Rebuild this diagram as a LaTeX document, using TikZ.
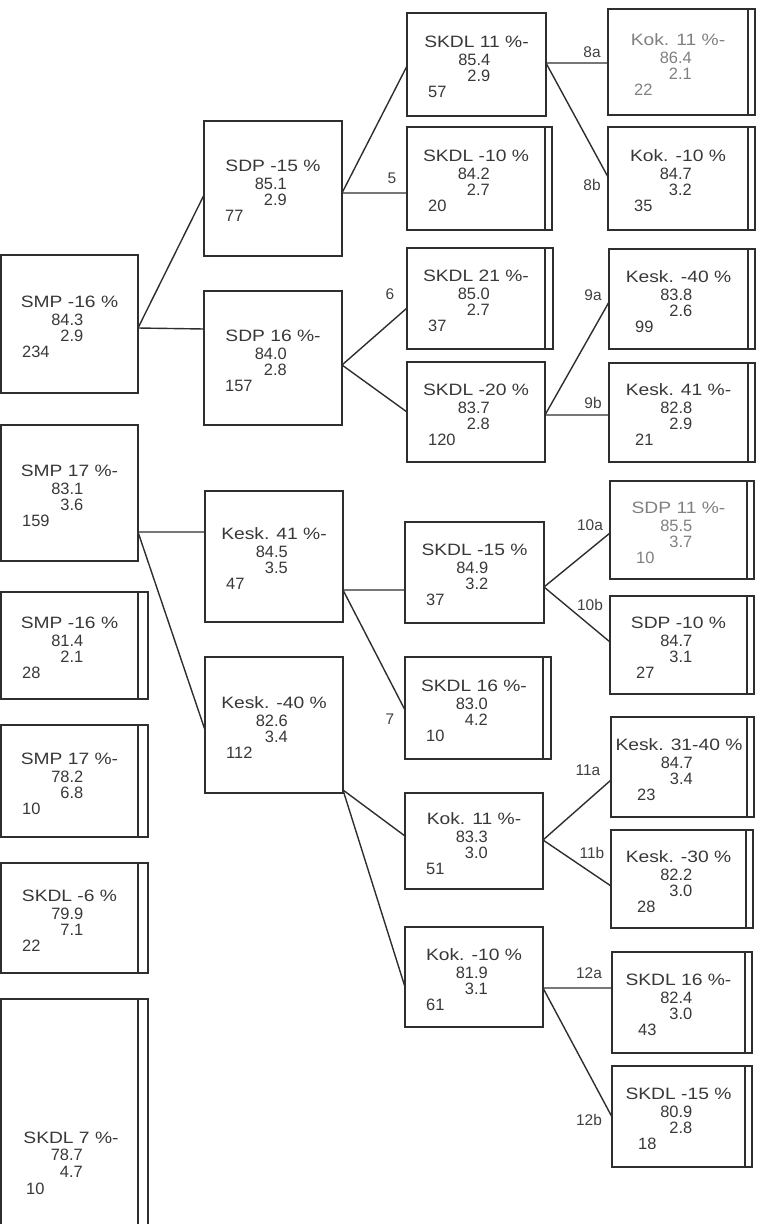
\documentclass[tikz,border=0pt]{standalone}
\usepackage{fontspec}
\setmainfont{Liberation Sans}
\usepackage{graphicx}
\tikzset{
  box/.style={draw=black!82, line width=1.9bp, inner sep=0pt, outer sep=0pt},
  txt/.style={inner sep=0pt, text=black!78, font=\fontsize{16.5}{17}\selectfont},
  faint/.style={txt, text=black!50},
  lab/.style={inner sep=0pt, text=black!75, font=\fontsize{15.5}{17}\selectfont},
  conn/.style={draw=black!82, line width=1.4bp}
}
\newcommand{\bx}[5]{\node[box,minimum width={(#4-#2)*1bp},minimum height={(#5-#3)*1bp}] (#1) at ({(#2+#4)/2},{(#3+#5)/2}) {};}
\newcommand{\dbl}[2]{\draw[box] (#1.north east) -- ++(#2,0) |- (#1.south east);}
\def\lfour{21bp}
\def\tst{txt}
\newcommand{\tx}[5]{%
  \node[\tst,anchor=base] (#1-a) at ([yshift=17bp]#1.center) {\scalebox{1.17}[1]{#2}};
  \node[\tst,anchor=base east] (#1-b) at ([xshift=14bp,yshift=-1bp]#1.center) {#3};
  \node[\tst,anchor=base east] (#1-c) at ([xshift=14bp,yshift=-17bp]#1.center) {#4};
  \node[\tst,anchor=base west] (#1-d) at ([xshift=\lfour,yshift=-33bp]#1.west) {#5};}
\begin{document}
\begin{tikzpicture}[x=1bp,y=-1bp]
\useasboundingbox (0,0) rectangle (758,1224);
% column 1
\bx{A1}{1}{255}{138}{393}
\bx{A2}{1}{425}{138}{561}
\bx{A3}{1}{592}{138}{699}\dbl{A3}{10}
\bx{A4}{1}{725}{138}{837}\dbl{A4}{10}
\bx{A5}{1}{863}{138}{973}\dbl{A5}{10}
\bx{A6}{1}{999}{138}{1240}\dbl{A6}{10}
% column 2
\bx{B1}{204}{121}{342}{256}
\bx{B2}{204}{291}{342}{425}
\bx{B3}{205}{491}{343}{622}
\bx{B4}{205}{657}{343}{793}
% column 3
\bx{C1}{407}{13}{546}{116}
\bx{C2}{407}{127}{545}{230}\dbl{C2}{7}
\bx{C3}{407}{248}{545}{349}\dbl{C3}{8}
\bx{C4}{407}{362}{545}{462}
\bx{C5}{405}{522}{544}{623}
\bx{C6}{405}{657}{543}{759}\dbl{C6}{8}
\bx{C7}{405}{793}{543}{889}
\bx{C8}{405}{927}{543}{1027}
% column 4
\bx{D1}{608}{9}{748}{115}\dbl{D1}{7}
\bx{D2}{608}{127}{748}{230}\dbl{D2}{7}
\bx{D3}{609}{249}{748}{349}\dbl{D3}{7}
\bx{D4}{609}{363}{748}{462}\dbl{D4}{7}
\bx{D5}{610}{481}{747}{579}\dbl{D5}{7}
\bx{D6}{610}{596}{747}{694}\dbl{D6}{7}
\bx{D7}{611}{717}{747}{817}\dbl{D7}{7}
\bx{D8}{611}{830}{746}{928}\dbl{D8}{7}
\bx{D9}{612}{952}{745}{1053}\dbl{D9}{7}
\bx{D10}{612}{1066}{745}{1167}\dbl{D10}{7}
% texts
\tx{A1}{SMP -16 \%}{84.3}{2.9}{234}
\tx{A2}{SMP 17 \%-}{83.1}{3.6}{159}
\tx{A3}{SMP -16 \%}{81.4}{2.1}{28}
\tx{A4}{SMP 17 \%-}{78.2}{6.8}{10}
\tx{A5}{SKDL -6 \%}{79.9}{7.1}{22}
\node[txt,anchor=base] (A6-a) at (71,1143) {\scalebox{1.17}[1]{SKDL 7 \%-}};
\node[txt,anchor=base east] (A6-b) at (83,1160) {78.7};
\node[txt,anchor=base east] (A6-c) at (83,1177) {4.7};
\node[txt,anchor=base west] (A6-d) at (26,1194) {10};
\tx{B1}{SDP -15 \%}{85.1}{2.9}{77}
\tx{B2}{SDP 16 \%-}{84.0}{2.8}{157}
\tx{B3}{Kesk. 41 \%-}{84.5}{3.5}{47}
\tx{B4}{Kesk. -40 \%}{82.6}{3.4}{112}
\tx{C1}{SKDL 11 \%-}{85.4}{2.9}{57}
\tx{C2}{SKDL -10 \%}{84.2}{2.7}{20}
\tx{C3}{SKDL 21 \%-}{85.0}{2.7}{37}
\tx{C4}{SKDL -20 \%}{83.7}{2.8}{120}
\tx{C5}{SKDL -15 \%}{84.9}{3.2}{37}
\tx{C6}{SKDL 16 \%-}{83.0}{4.2}{10}
\tx{C7}{Kok. 11 \%-}{83.3}{3.0}{51}
\tx{C8}{Kok. -10 \%}{81.9}{3.1}{61}
\def\lfour{26bp}
\def\tst{faint}
\tx{D1}{Kok. 11 \%-}{86.4}{2.1}{22}
\def\tst{txt}
\tx{D2}{Kok. -10 \%}{84.7}{3.2}{35}
\tx{D3}{Kesk. -40 \%}{83.8}{2.6}{99}
\tx{D4}{Kesk. 41 \%-}{82.8}{2.9}{21}
\def\tst{faint}
\tx{D5}{SDP 11 \%-}{85.5}{3.7}{10}
\def\tst{txt}
\tx{D6}{SDP -10 \%}{84.7}{3.1}{27}
\tx{D7}{Kesk. 31-40 \%}{84.7}{3.4}{23}
\tx{D8}{Kesk. -30 \%}{82.2}{3.0}{28}
\tx{D9}{SKDL 16 \%-}{82.4}{3.0}{43}
\tx{D10}{SKDL -15 \%}{80.9}{2.8}{18}
% connectors
\draw[conn] ([yshift=-4bp]A1.east) -- ([yshift=-6.5bp]B1.west);
\draw[conn] ([yshift=-4bp]A1.east) -- ([yshift=29bp]B2.west);
\draw[conn] ([yshift=-4.5bp]B1.east) -- ([yshift=-1.5bp]C1.west);
\draw[conn] ([yshift=-4.5bp]B1.east) -- ([yshift=-14.5bp]C2.west);
\draw[conn] ([yshift=-7bp]B2.east) -- ([yshift=-9.5bp]C3.west);
\draw[conn] ([yshift=-7bp]B2.east) -- (C4.west);
\draw[conn] ([yshift=1.5bp]C1.east) -- ([yshift=-1bp]D1.west);
\draw[conn] ([yshift=1.5bp]C1.east) -- ([yshift=1.5bp]D2.west);
\draw[conn] ([yshift=-3bp]C4.east) -- ([yshift=-3bp]D3.west);
\draw[conn] ([yshift=-3bp]C4.east) -- ([yshift=-2.5bp]D4.west);
\draw[conn] ([yshift=-39bp]A2.east) -- ([yshift=24.5bp]B3.west);
\draw[conn] ([yshift=-39bp]A2.east) -- ([yshift=-5bp]B4.west);
\draw[conn] ([yshift=-33.5bp]B3.east) -- ([yshift=-17.5bp]C5.west);
\draw[conn] ([yshift=-33.5bp]B3.east) -- ([yshift=-2bp]C6.west);
\draw[conn] ([yshift=-14.5bp]C5.east) -- ([yshift=-3bp]D5.west);
\draw[conn] ([yshift=-14.5bp]C5.east) -- ([yshift=3bp]D6.west);
\draw[conn] ([yshift=-65bp]B4.east) -- ([yshift=5bp]C7.west);
\draw[conn] ([yshift=-65bp]B4.east) -- ([yshift=-10bp]C8.west);
\draw[conn] ([yshift=1bp]C7.east) -- ([yshift=-13bp]D7.west);
\draw[conn] ([yshift=1bp]C7.east) -- ([yshift=-7bp]D8.west);
\draw[conn] ([yshift=-11bp]C8.east) -- ([yshift=14.5bp]D9.west);
\draw[conn] ([yshift=-11bp]C8.east) -- ([yshift=-0.5bp]D10.west);
% branch labels
\node[lab] (l5) at (392,178) {5};
\node[lab] (l6) at (390,294) {6};
\node[lab] (l7) at (390,719) {7};
\node[lab] (l8a) at (592,52) {8a};
\node[lab] (l8b) at (592,185) {8b};
\node[lab] (l9a) at (593,295) {9a};
\node[lab] (l9b) at (593,403) {9b};
\node[lab] (l10a) at (590,525) {10a};
\node[lab] (l10b) at (590,605) {10b};
\node[lab] (l11a) at (588,770) {11a};
\node[lab] (l11b) at (592,853) {11b};
\node[lab] (l12a) at (589,973) {12a};
\node[lab] (l12b) at (589,1120) {12b};
\end{tikzpicture}
\end{document}
